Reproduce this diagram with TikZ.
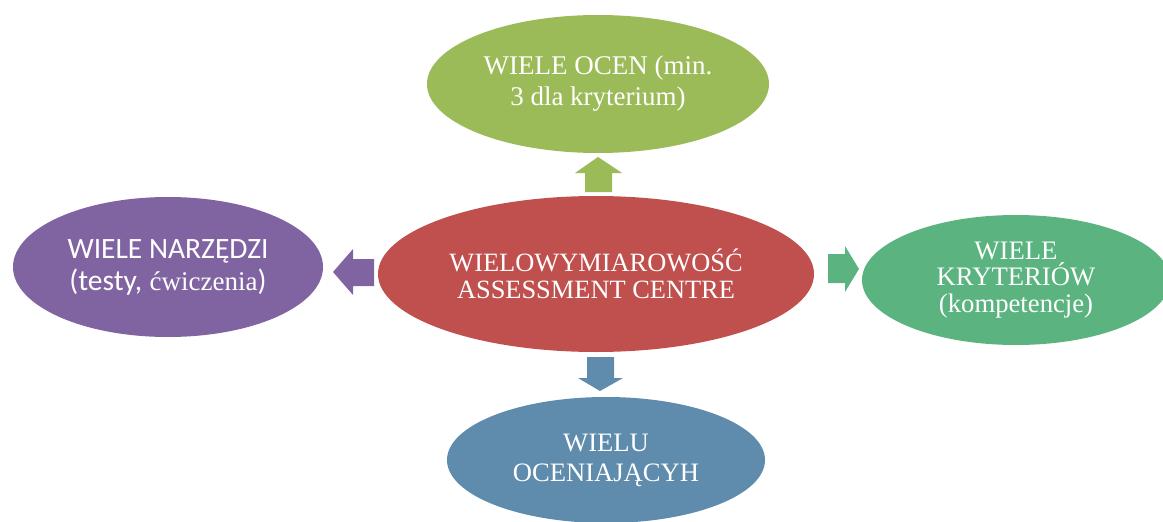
\documentclass[tikz,border=0pt]{standalone}
\usepackage{fontspec}
\setmainfont{Liberation Serif}
\newfontfamily\calib{Carlito}
\usetikzlibrary{shapes.geometric}
\definecolor{cred}{HTML}{C0504D}
\definecolor{cgreen}{HTML}{9BBB59}
\definecolor{cpurple}{HTML}{8064A2}
\definecolor{cblue}{HTML}{5F8CAD}
\definecolor{cteal}{HTML}{5BB37F}
\tikzset{
  blob/.style={ellipse, inner sep=0pt, text=white, align=center, draw=none},
}
\begin{document}
\begin{tikzpicture}[x=1pt,y=-1pt]
\useasboundingbox (0,0) rectangle (1163,522);
\clip (0,0) rectangle (1163,522);
\node[blob, fill=cgreen, minimum width=342pt, minimum height=138pt,
  font=\fontsize{27}{31}\selectfont] (top) at (598,84) {WIELE OCEN (min.\\3 dla kryterium)};
\node[blob, fill=cred, minimum width=436pt, minimum height=156pt,
  font=\fontsize{26.4}{27}\selectfont] (ctr) at (596,274) {WIELOWYMIAROWOŚĆ\\ASSESSMENT CENTRE};
\node[blob, fill=cpurple, minimum width=310pt, minimum height=140pt,
  font=\fontsize{29.5}{32}\selectfont] (lft) at (168,267) {{\calib WIELE NARZĘDZI}\\{\calib (testy,} {\fontsize{27}{32}\selectfont ćwiczenia}{\calib )}};
\node[blob, fill=cteal, minimum width=308pt, minimum height=130pt,
  font=\fontsize{26.7}{26.5}\selectfont] (rgt) at (1016,280) {WIELE\\KRYTERIÓW\\(kompetencje)};
\node[blob, fill=cblue, minimum width=318pt, minimum height=126pt,
  font=\fontsize{26.6}{30}\selectfont] (bot) at (606,460) {WIELU\\OCENIAJĄCYH};
% block arrows
\fill[cgreen] (598,157) -- (622,173) -- (612,173) -- (612,192) -- (585,192) -- (585,173) -- (575,173) -- cycle;
\fill[cpurple] (333,272) -- (353,249) -- (353,259) -- (374,259) -- (374,286) -- (353,286) -- (353,295) -- cycle;
\fill[cteal] (859,269) -- (845,246) -- (845,254) -- (828,254) -- (828,283) -- (845,283) -- (845,292) -- cycle;
\fill[cblue] (600,391) -- (623,378) -- (614,378) -- (614,357) -- (587,357) -- (587,378) -- (578,378) -- cycle;
\end{tikzpicture}
\end{document}
